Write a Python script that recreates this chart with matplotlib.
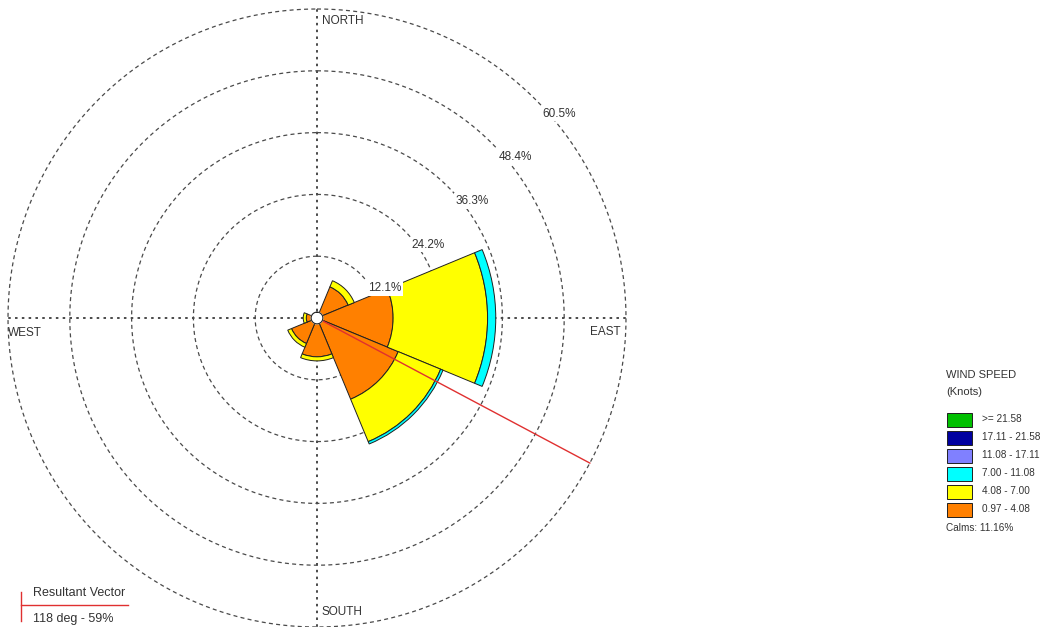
import numpy as np
import matplotlib
matplotlib.use("Agg")
import matplotlib.pyplot as plt
from matplotlib.patches import Rectangle
from matplotlib.lines import Line2D

plt.rcParams['font.family'] = ['Liberation Sans', 'DejaVu Sans']

# ---------------- data ----------------
directions = ['N', 'NE', 'E', 'SE', 'S', 'SW', 'W', 'NW']
dir_deg = [0, 45, 90, 135, 180, 225, 270, 315]
speed_labels = ['>= 21.58', '17.11 - 21.58', '11.08 - 17.11', '7.00 - 11.08', '4.08 - 7.00', '0.97 - 4.08']
speed_colors = ['#00C000', '#0000A0', '#8080FF', '#00FFFF', '#FFFF00', '#FF8000']
# percentage of time per direction, per speed class (lowest class first)
pct_097_408 = [0.0, 6.6, 14.9, 17.2, 7.6, 5.4, 2.1, 0.0]
pct_408_700 = [0.0, 1.3, 18.5, 9.0, 0.8, 0.8, 0.6, 0.0]
pct_700_1108 = [0.0, 0.0, 1.6, 0.5, 0.0, 0.0, 0.0, 0.0]
pct_1108_1711 = [0.0] * 8
pct_1711_2158 = [0.0] * 8
pct_ge_2158 = [0.0] * 8
ring_values = [12.1, 24.2, 36.3, 48.4, 60.5]
calms_pct = 11.16
resultant_deg = 118
resultant_pct = 59

# ---------------- figure ----------------
W, H = 1057, 627
fig = plt.figure(figsize=(W / 100, H / 100), dpi=100)
fig.patch.set_facecolor('white')

def fx(x):
    return x / W

def fy(y):
    return 1 - y / H

cx, cy, R = 317, 318, 309
ax = fig.add_axes([fx(cx - R), fy(cy + R), 2 * R / W, 2 * R / H], projection='polar')
ax.set_theta_zero_location('N')
ax.set_theta_direction(-1)
rmax = ring_values[-1]
ax.set_ylim(0, rmax)
ax.grid(False)
ax.set_xticks([])
ax.set_yticks([])
ax.spines['polar'].set_visible(False)
ax.patch.set_alpha(0)

grid_col = '#4a4a4a'
th = np.linspace(0, 2 * np.pi, 721)
for rv in ring_values:
    ax.plot(th, np.full_like(th, rv), ls=(0, (3.2, 2.6)), color=grid_col, lw=0.9,
            clip_on=False, zorder=1)
for d in [0, 90, 180, 270]:
    ax.plot([np.radians(d)] * 2, [0, rmax], ls=(0, (1.3, 2.2)), color=grid_col, lw=1.4,
            clip_on=False, zorder=1)

# petals
theta = np.radians(dir_deg)
width = np.radians(45)
classes = [pct_097_408, pct_408_700, pct_700_1108, pct_1108_1711, pct_1711_2158, pct_ge_2158]
class_colors = speed_colors[::-1]
bottom = np.zeros(len(dir_deg))
for vals, col in zip(classes, class_colors):
    vals = np.array(vals)
    mask = vals > 0
    if mask.any():
        ax.bar(theta[mask], vals[mask], width=width, bottom=bottom[mask], color=col,
               edgecolor='#202020', linewidth=0.7, align='center', zorder=3)
    bottom += vals

# resultant vector
ax.plot([np.radians(resultant_deg)] * 2, [0, rmax], color='#E03030', lw=1.0, zorder=6,
        clip_on=False)

# calm circle
ax.fill(th, np.full_like(th, 1.15), color='white', zorder=7)
ax.plot(th, np.full_like(th, 1.15), color='#202020', lw=0.8, zorder=8)

# ring labels
for rv in ring_values:
    ax.annotate(f'{rv}%', xy=(np.radians(45), rv), xytext=(24 * 0.72, -14 * 0.72),
                textcoords='offset points', ha='center', va='center', fontsize=8.5,
                color='#333333', zorder=9,
                bbox=dict(boxstyle='square,pad=0.15', fc='white', ec='none'))

# direction labels
tc = '#333333'
fig.text(fx(322), fy(21), 'NORTH', ha='left', va='center', fontsize=8.5, color=tc)
fig.text(fx(322), fy(612), 'SOUTH', ha='left', va='center', fontsize=8.5, color=tc)
fig.text(fx(8), fy(333), 'WEST', ha='left', va='center', fontsize=8.5, color=tc)
fig.text(fx(590), fy(332), 'EAST', ha='left', va='center', fontsize=8.5, color=tc)

# wind speed legend
fig.text(fx(946), fy(375), 'WIND SPEED', ha='left', va='center', fontsize=8, color=tc)
fig.text(fx(946), fy(392), '(Knots)', ha='left', va='center', fontsize=8, color=tc)
row_y = [419.5, 437.5, 455.5, 473.5, 491.5, 509.5]
for yy, lab, col in zip(row_y, speed_labels, speed_colors):
    fig.add_artist(Rectangle((fx(947), fy(yy + 7)), 25 / W, 14 / H, transform=fig.transFigure,
                             facecolor=col, edgecolor='#202020', lw=0.7))
    fig.text(fx(982), fy(yy), lab, ha='left', va='center', fontsize=7.2, color=tc)
fig.text(fx(946), fy(528), f'Calms: {calms_pct:.2f}%', ha='left', va='center', fontsize=7.2,
         color=tc)

# resultant vector legend
fig.add_artist(Line2D([fx(21), fx(128)], [fy(605), fy(605)], transform=fig.transFigure,
                      color='#E03030', lw=1.0))
fig.add_artist(Line2D([fx(21), fx(21)], [fy(592), fy(621)], transform=fig.transFigure,
                      color='#E03030', lw=1.0))
fig.text(fx(33), fy(593), 'Resultant Vector', ha='left', va='center', fontsize=9, color=tc)
fig.text(fx(33), fy(619), f'{resultant_deg} deg - {resultant_pct}%', ha='left', va='center',
         fontsize=9, color=tc)

fig.savefig('out.png', dpi=100, facecolor='white')
